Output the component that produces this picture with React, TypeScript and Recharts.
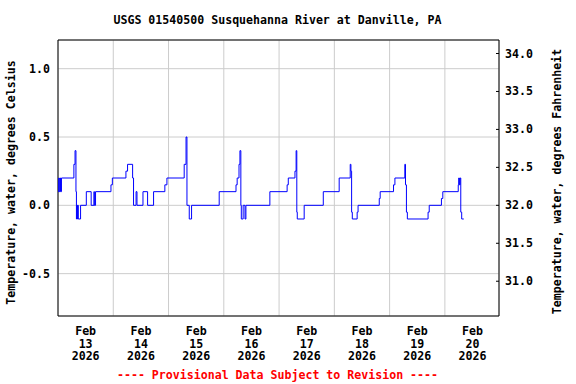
import React from 'react';
import { LineChart, Line, XAxis, YAxis, CartesianGrid, ReferenceArea } from 'recharts';

// Hours since Feb 13 2026 00:00 where the reading changes (step data)
const hours = [
  0, 0.3, 0.5, 0.8, 1.1, 1.5,
  6.9, 7.4, 7.8, 8.0, 8.2, 8.4, 8.6, 8.8, 9.8,
  12.3, 14.4, 15.6, 15.8, 16.3,
  23.0, 23.6,
  29.5, 30.2, 32.4, 32.8, 33.9, 34.3, 36.9, 38.9, 41.5, 46.4, 47.3,
  54.8, 55.6, 56.0, 57.0, 58.0,
  70.0, 77.3, 77.8, 78.6, 79.0, 79.4, 79.6, 80.4, 81.2, 81.6,
  92.0, 99.5, 100.0, 102.9, 103.4, 103.7, 103.9, 106.9,
  115.2, 122.1,
  126.9, 127.2, 127.5, 127.8, 129.9, 130.3,
  139.5, 139.9, 145.7, 146.3, 150.6, 150.9, 151.3, 151.7,
  160.7, 161.2, 166.5, 167.1,
  173.8, 174.0, 174.3, 174.6, 174.9, 175.3, 176.2,
];
const tempC = [
  0.1, 0.2, 0.1, 0.2, 0.1, 0.2,
  0.3, 0.4, 0.1, -0.1, 0.0, -0.1, 0.0, -0.1, 0.0,
  0.1, 0.0, 0.1, 0.0, 0.1,
  0.15, 0.2,
  0.25, 0.3, 0.2, 0.0, 0.1, 0.0, 0.1, 0.0, 0.1, 0.15, 0.2,
  0.3, 0.5, 0.0, -0.1, 0.0,
  0.1, 0.15, 0.2, 0.3, 0.4, 0.0, -0.1, 0.0, -0.1, 0.0,
  0.1, 0.15, 0.2, 0.25, 0.4, -0.05, -0.1, 0.0,
  0.1, 0.2,
  0.3, 0.25, -0.05, -0.1, -0.05, 0.0,
  0.05, 0.1, 0.15, 0.2, 0.3, 0.15, -0.05, -0.1,
  -0.05, 0.0, 0.05, 0.1,
  0.15, 0.2, 0.15, 0.2, -0.05, -0.1, -0.1,
];

const dayLabels = ['13', '14', '15', '16', '17', '18', '19', '20'];
const dayLabelHours = [12, 36, 60, 84, 108, 132, 156, 180];
const midnightHours = [24, 48, 72, 96, 120, 144, 168];
const celsiusTicks = [-0.5, 0, 0.5, 1.0];
const fahrenheitTicks = [31.0, 31.5, 32.0, 32.5, 33.0, 33.5, 34.0];

const X_MAX = 191.5;
const C_MIN = -0.81;
const C_MAX = 1.21;
const F_MIN = C_MIN * 1.8 + 32;
const F_MAX = C_MAX * 1.8 + 32;

const data = hours.map((h, i) => ({ h, v: tempC[i] }));

const FONT = '"DejaVu Sans Mono", monospace';
const FS = 11.6;

const XTick = (props: any) => {
  const { x, y, payload } = props;
  const idx = dayLabelHours.indexOf(payload.value);
  const day = idx >= 0 ? dayLabels[idx] : '';
  return (
    <g fontFamily={FONT} fontSize={FS} fontWeight="bold" fill="#000">
      <text x={x} y={y + 11} textAnchor="middle">Feb</text>
      <text x={x} y={y + 23.5} textAnchor="middle">{day}</text>
      <text x={x} y={y + 36} textAnchor="middle">2026</text>
    </g>
  );
};

const LeftTick = (props: any) => {
  const { x, y, payload } = props;
  return (
    <text x={x} y={y + 4} textAnchor="end" fontFamily={FONT} fontSize={FS} fontWeight="bold" fill="#000">
      {Number(payload.value).toFixed(1)}
    </text>
  );
};

const RightTick = (props: any) => {
  const { x, y, payload } = props;
  return (
    <g>
      <line x1={x - 9} x2={x - 6} y1={y} y2={y} stroke="#000" />
      <text x={x} y={y + 4} textAnchor="start" fontFamily={FONT} fontSize={FS} fontWeight="bold" fill="#000">
        {Number(payload.value).toFixed(1)}
      </text>
    </g>
  );
};

export default function App() {
  return (
    <div style={{ position: 'absolute', left: 0, top: 0, width: 576, height: 384, background: '#fff' }}>
      <LineChart
        width={576}
        height={384}
        data={data}
        margin={{ top: 40, right: 0, bottom: 0, left: 0 }}
      >
        <XAxis
          dataKey="h"
          type="number"
          domain={[0, X_MAX]}
          allowDataOverflow
          ticks={dayLabelHours}
          interval={0}
          tick={<XTick />}
          tickLine={false}
          axisLine={false}
          tickSize={6}
          tickMargin={2}
          height={68}
        />
        <XAxis
          xAxisId="grid"
          dataKey="h"
          type="number"
          domain={[0, X_MAX]}
          allowDataOverflow
          ticks={midnightHours}
          interval={0}
          hide
        />
        <YAxis
          yAxisId="c"
          type="number"
          domain={[C_MIN, C_MAX]}
          allowDataOverflow
          ticks={celsiusTicks}
          interval={0}
          tick={<LeftTick />}
          tickLine={false}
          axisLine={false}
          tickSize={6}
          tickMargin={2}
          width={58}
        />
        <YAxis
          yAxisId="f"
          orientation="right"
          type="number"
          domain={[F_MIN, F_MAX]}
          allowDataOverflow
          ticks={fahrenheitTicks}
          interval={0}
          tick={<RightTick />}
          tickLine={false}
          axisLine={false}
          tickSize={6}
          tickMargin={0}
          width={77}
        />
        <CartesianGrid xAxisId="grid" yAxisId="c" stroke="#cccccc" strokeDasharray="" />
        <Line
          yAxisId="c"
          dataKey="v"
          type="stepAfter"
          stroke="#0000ff"
          strokeWidth={1}
          dot={false}
          activeDot={false}
          isAnimationActive={false}
        />
        <ReferenceArea
          yAxisId="c"
          x1={0}
          x2={X_MAX}
          y1={C_MIN}
          y2={C_MAX}
          fill="none"
          fillOpacity={0}
          stroke="#000"
          strokeWidth={1}
        />
        <text x={277.5} y={24} textAnchor="middle" fontFamily={FONT} fontSize={FS} fontWeight="bold" fill="#000">
          USGS 01540500 Susquehanna River at Danville, PA
        </text>
        <text
          x={15}
          y={182.5}
          transform="rotate(-90 15 182.5)"
          textAnchor="middle"
          fontFamily={FONT}
          fontSize={FS}
          fontWeight="bold"
          fill="#000"
        >
          Temperature, water, degrees Celsius
        </text>
        <text
          x={561}
          y={181.5}
          transform="rotate(-90 561 181.5)"
          textAnchor="middle"
          fontFamily={FONT}
          fontSize={FS}
          fontWeight="bold"
          fill="#000"
        >
          Temperature, water, degrees Fahrenheit
        </text>
        <text x={277.5} y={379} textAnchor="middle" fontFamily={FONT} fontSize={FS} fontWeight="bold" fill="#ff0000">
          ---- Provisional Data Subject to Revision ----
        </text>
      </LineChart>
    </div>
  );
}
